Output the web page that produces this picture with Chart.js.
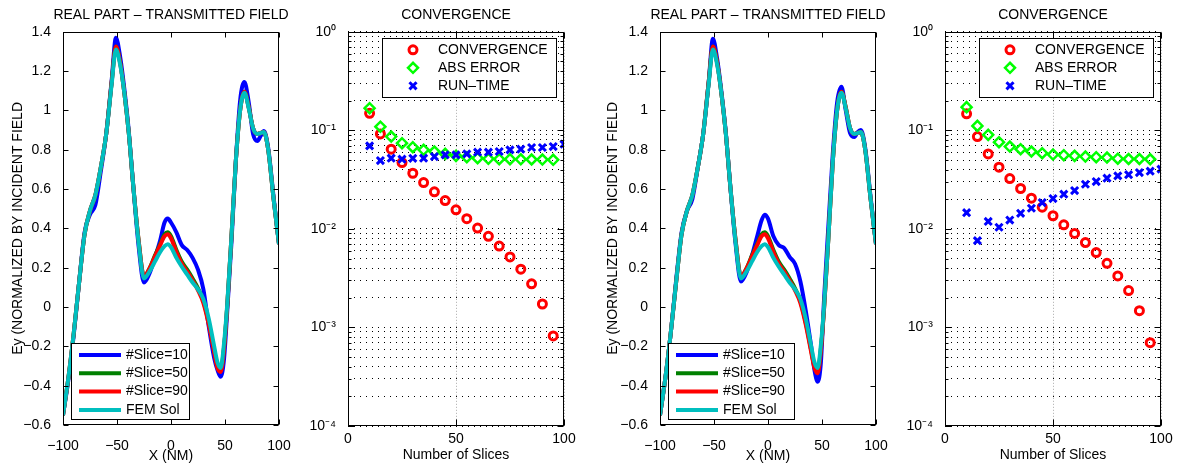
<!DOCTYPE html>
<html>
<head>
<meta charset="utf-8">
<script src="https://cdn.jsdelivr.net/npm/chart.js@4.4.0/dist/chart.umd.min.js"></script>
<style>
  html, body { margin: 0; padding: 0; background: #fff; overflow: hidden; }
  body { width: 1178px; height: 468px; position: relative; }
  canvas { position: absolute; top: 0; }
</style>
</head>
<body>
<canvas id="field1" width="342" height="468" style="left:0px"></canvas>
<canvas id="conv1" width="316" height="468" style="left:298px"></canvas>
<canvas id="field2" width="356" height="468" style="left:590px"></canvas>
<canvas id="conv2" width="316" height="468" style="left:895px"></canvas>
<script>
// ---- field plots (X in nm) ----
const xNm = [-100, -95, -90, -85, -80, -75, -70, -65, -60, -55, -51, -47, -43, -39, -35, -30, -25, -20, -15, -10, -6, -3, 0,
    5, 10, 15, 20, 25, 30, 35, 40, 43, 46, 49, 52, 56, 60, 64, 68, 72, 76, 80, 83, 86, 90, 95, 100];

const femSol = [-0.55, -0.36, -0.13, 0.13, 0.37, 0.49, 0.57, 0.71, 0.88, 1.13, 1.31, 1.23, 1.08, 0.88, 0.62, 0.33, 0.145, 0.18, 0.23, 0.28, 0.31, 0.32, 0.305,
    0.25, 0.205, 0.165, 0.125, 0.09, 0.04, -0.06, -0.2, -0.28, -0.31, -0.19, 0.01, 0.36, 0.74, 1.0, 1.09, 1.01, 0.91, 0.88, 0.885, 0.89, 0.8, 0.55, 0.32];

// left figure
const slice10A = [-0.55, -0.37, -0.14, 0.13, 0.38, 0.47, 0.52, 0.69, 0.88, 1.15, 1.37, 1.27, 1.1, 0.89, 0.62, 0.31, 0.125, 0.17, 0.25, 0.34, 0.43, 0.45, 0.43,
    0.38, 0.315, 0.29, 0.25, 0.19, 0.09, -0.1, -0.26, -0.32, -0.355, -0.27, -0.03, 0.33, 0.74, 1.05, 1.145, 1.04, 0.88, 0.845, 0.87, 0.895, 0.81, 0.56, 0.32];
const slice50A = [-0.55, -0.36, -0.13, 0.13, 0.37, 0.49, 0.57, 0.71, 0.88, 1.14, 1.325, 1.24, 1.08, 0.88, 0.62, 0.34, 0.155, 0.195, 0.26, 0.32, 0.37, 0.38, 0.36,
    0.29, 0.23, 0.19, 0.145, 0.095, 0.03, -0.08, -0.22, -0.3, -0.32, -0.21, 0.0, 0.36, 0.74, 1.0, 1.095, 1.015, 0.91, 0.88, 0.885, 0.89, 0.8, 0.55, 0.32];
const slice90A = [-0.55, -0.36, -0.13, 0.13, 0.37, 0.49, 0.57, 0.71, 0.88, 1.14, 1.325, 1.24, 1.08, 0.88, 0.62, 0.34, 0.155, 0.195, 0.255, 0.315, 0.36, 0.37, 0.35,
    0.28, 0.22, 0.18, 0.135, 0.085, 0.02, -0.09, -0.23, -0.31, -0.33, -0.22, 0.0, 0.36, 0.74, 1.0, 1.095, 1.015, 0.91, 0.88, 0.885, 0.89, 0.8, 0.55, 0.32];

// right figure
const slice10B = [-0.55, -0.36, -0.13, 0.14, 0.38, 0.49, 0.55, 0.71, 0.88, 1.14, 1.365, 1.26, 1.09, 0.885, 0.62, 0.32, 0.13, 0.175, 0.26, 0.36, 0.44, 0.47, 0.45,
    0.36, 0.315, 0.3, 0.255, 0.22, 0.13, -0.02, -0.2, -0.32, -0.38, -0.28, 0.05, 0.42, 0.78, 1.04, 1.12, 1.0, 0.885, 0.865, 0.89, 0.9, 0.81, 0.56, 0.32];
const slice50B = [-0.55, -0.36, -0.13, 0.13, 0.37, 0.49, 0.57, 0.71, 0.88, 1.14, 1.325, 1.24, 1.08, 0.88, 0.62, 0.34, 0.155, 0.195, 0.26, 0.32, 0.37, 0.38, 0.36,
    0.29, 0.23, 0.19, 0.145, 0.095, 0.03, -0.08, -0.22, -0.3, -0.325, -0.21, 0.0, 0.36, 0.74, 1.0, 1.095, 1.015, 0.91, 0.88, 0.885, 0.89, 0.8, 0.55, 0.32];
const slice90B = [-0.55, -0.36, -0.13, 0.13, 0.37, 0.49, 0.57, 0.71, 0.88, 1.14, 1.325, 1.24, 1.08, 0.88, 0.62, 0.34, 0.155, 0.195, 0.255, 0.315, 0.36, 0.37, 0.35,
    0.28, 0.22, 0.18, 0.135, 0.085, 0.02, -0.09, -0.23, -0.31, -0.337, -0.22, 0.0, 0.36, 0.74, 1.0, 1.095, 1.015, 0.91, 0.88, 0.885, 0.89, 0.8, 0.55, 0.32];

const fieldXTicks = [-100, -50, 0, 50, 100];
const fieldXLabels = ['\u2212100', '\u221250', '0', '50', '100'];
const fieldYTicks = [-0.6, -0.4, -0.2, 0, 0.2, 0.4, 0.6, 0.8, 1, 1.2, 1.4];
const fieldYLabels = ['\u22120.6', '\u22120.4', '\u22120.2', '0', '0.2', '0.4', '0.6', '0.8', '1', '1.2', '1.4'];

// ---- convergence plots ----
const slices = [10, 15, 20, 25, 30, 35, 40, 45, 50, 55, 60, 65, 70, 75, 80, 85, 90, 95];
const runSlices = [10, 15, 20, 25, 30, 35, 40, 45, 50, 55, 60, 65, 70, 75, 80, 85, 90, 95, 100];

const convA = [0.149, 0.092, 0.0644, 0.0471, 0.0367, 0.0295, 0.0238, 0.0194, 0.0156, 0.0127, 0.0102, 0.0084, 0.0067, 0.0052, 0.0039, 0.00277, 0.00173, 0.00082];
const absErrA = [0.168, 0.109, 0.0865, 0.074, 0.0675, 0.0634, 0.061, 0.0577, 0.0551, 0.0534, 0.0522, 0.0514, 0.051, 0.051, 0.0508, 0.0506, 0.0505, 0.0503];
const runTimeA = [0.0696, 0.0494, 0.0522, 0.051, 0.052, 0.0522, 0.0542, 0.0564, 0.0564, 0.0577, 0.06, 0.06, 0.061, 0.0634, 0.0644, 0.067, 0.067, 0.0685, 0.0724];

const convB = [0.147, 0.0865, 0.0577, 0.0423, 0.0324, 0.0257, 0.0205, 0.0166, 0.0136, 0.011, 0.009, 0.00726, 0.00575, 0.00448, 0.00333, 0.00237, 0.00148, 0.0007];
const absErrB = [0.172, 0.111, 0.09, 0.0759, 0.0685, 0.0644, 0.061, 0.0586, 0.0568, 0.056, 0.0551, 0.0542, 0.0534, 0.053, 0.0516, 0.0512, 0.0512, 0.0509];
const runTimeB = [0.0146, 0.0076, 0.0119, 0.0104, 0.0123, 0.0144, 0.0162, 0.0185, 0.0203, 0.0225, 0.0245, 0.0284, 0.0302, 0.0327, 0.0345, 0.0355, 0.0373, 0.0385, 0.0404];

const convXTicks = [0, 50, 100];
const convXLabels = ['0', '50', '100'];
const logDecades = [1e-4, 1e-3, 1e-2, 1e-1, 1];
const logDecadeLabels = ['10\u207B\u2074', '10\u207B\u00B3', '10\u207B\u00B2', '10\u207B\u00B9', '10\u2070'];
const logMinor = [2, 3, 4, 5, 6, 7, 8, 9];

const FONT = '"Liberation Sans", Arial, Helvetica, sans-serif';
Chart.defaults.font.family = FONT;
Chart.defaults.font.size = 14;
Chart.defaults.color = '#000';

// box + inward ticks like matlab
const frameTicks = {
    id: 'frameTicks',
    afterDraw(chart, args, opts) {
        const ctx = chart.ctx;
        const a = chart.chartArea;
        const xs = chart.scales.x, ys = chart.scales.y;
        const L = Math.round(a.left) + 0.5, R = Math.round(a.right) - 0.5;
        const T = Math.round(a.top) + 0.5, B = Math.round(a.bottom) - 0.5;
        ctx.save();
        ctx.strokeStyle = '#000';
        ctx.lineWidth = 1;
        ctx.beginPath();
        xs.ticks.forEach(t => {
            const px = Math.round(xs.getPixelForValue(t.value)) + 0.5;
            ctx.moveTo(px, B); ctx.lineTo(px, B - opts.len);
            ctx.moveTo(px, T); ctx.lineTo(px, T + opts.len);
        });
        ys.ticks.forEach(t => {
            const py = Math.round(ys.getPixelForValue(t.value)) + 0.5;
            const len = t.major === false ? opts.minorLen : opts.len;
            ctx.moveTo(L, py); ctx.lineTo(L + len, py);
            ctx.moveTo(R, py); ctx.lineTo(R - len, py);
        });
        ctx.stroke();
        ctx.strokeRect(L, T, R - L, B - T);
        ctx.restore();
    }
};

// legend box drawn inside the axes
const boxLegend = {
    id: 'boxLegend',
    afterDatasetsDraw(chart, args, o) {
        const ctx = chart.ctx;
        const a = chart.chartArea;
        const left = o.corner === 'bl' ? a.left + o.dx : a.right - o.dx - o.width;
        const top = o.corner === 'bl' ? a.bottom - o.dy - o.height : a.top + o.dy;
        ctx.save();
        ctx.fillStyle = '#fff';
        ctx.fillRect(left, top, o.width, o.height);
        ctx.strokeStyle = '#000';
        ctx.lineWidth = 1;
        ctx.strokeRect(Math.round(left) + 0.5, Math.round(top) + 0.5, o.width, o.height);
        chart.data.datasets.forEach((ds, i) => {
            const y = top + o.firstRow + i * o.rowGap;
            if (o.kind === 'line') {
                ctx.strokeStyle = ds.borderColor;
                ctx.lineWidth = ds.borderWidth;
                ctx.beginPath();
                ctx.moveTo(left + o.symX, y);
                ctx.lineTo(left + o.symX + o.symLen, y);
                ctx.stroke();
            } else {
                ctx.strokeStyle = ds.pointBorderColor;
                ctx.fillStyle = 'rgba(0,0,0,0)';
                ctx.lineWidth = ds.pointBorderWidth;
                Chart.helpers.drawPoint(ctx, {
                    pointStyle: ds.pointStyle, radius: ds.pointRadius,
                    borderWidth: ds.pointBorderWidth, rotation: 0
                }, left + o.symX, y);
            }
            ctx.fillStyle = '#000';
            ctx.font = '14px ' + FONT;
            ctx.textBaseline = 'middle';
            ctx.textAlign = 'left';
            ctx.fillText(ds.label, left + o.textX, y);
        });
        ctx.restore();
    }
};

// empty right axis, same width as the left one, so the title sits over the plot box
function spacerAxis(w) {
    return {
        position: 'right',
        afterFit: s => { s.width = w; },
        grid: { display: false },
        border: { display: false },
        ticks: { display: false }
    };
}

function fieldChart(id, s10, s50, s90, axisW, titlePad, legendW) {
    const pts = ys => xNm.map((x, i) => ({ x: x, y: ys[i] }));
    return new Chart(document.getElementById(id), {
        type: 'line',
        data: {
            datasets: [
                { label: '#Slice=10', data: pts(s10), borderColor: '#0000ff', borderWidth: 4, order: 3 },
                { label: '#Slice=50', data: pts(s50), borderColor: '#008000', borderWidth: 4, order: 2 },
                { label: '#Slice=90', data: pts(s90), borderColor: '#ff0000', borderWidth: 4, order: 1 },
                { label: 'FEM Sol', data: pts(femSol), borderColor: '#00bfbf', borderWidth: 4, order: 0 }
            ]
        },
        options: {
            responsive: false,
            animation: false,
            elements: {
                point: { radius: 0 },
                line: { cubicInterpolationMode: 'monotone' }
            },
            plugins: {
                legend: { display: false },
                tooltip: { enabled: false },
                title: {
                    display: true, text: 'REAL PART \u2013 TRANSMITTED FIELD',
                    font: { size: 14, weight: 'normal' }, padding: { top: 7, bottom: 8 }
                },
                frameTicks: { len: 5, minorLen: 3 },
                boxLegend: {
                    kind: 'line', corner: 'bl', dx: 8, dy: 6, width: legendW, height: 76,
                    firstRow: 12, rowGap: 18.3, symX: 8, symLen: 42, textX: 55
                }
            },
            scales: {
                x: {
                    type: 'linear', min: -100, max: 100,
                    afterBuildTicks: s => { s.ticks = fieldXTicks.map(v => ({ value: v })); },
                    afterFit: s => { s.height = 43; },
                    grid: { display: false },
                    border: { display: false },
                    ticks: { autoSkip: false, maxRotation: 0, padding: 5, callback: (v, i) => fieldXLabels[i] },
                    title: { display: true, text: 'X (NM)', padding: { top: 0, bottom: 3 } }
                },
                y: {
                    type: 'linear', min: -0.6, max: 1.4,
                    afterBuildTicks: s => { s.ticks = fieldYTicks.map(v => ({ value: v })); },
                    afterFit: s => { s.width = axisW; },
                    grid: { display: false },
                    border: { display: false },
                    ticks: { autoSkip: false, padding: 4, callback: (v, i) => fieldYLabels[i] },
                    title: { display: true, text: 'Ey (NORMALIZED BY INCIDENT FIELD', padding: { top: titlePad, bottom: 0 } }
                },
                pad: spacerAxis(axisW)
            }
        },
        plugins: [frameTicks, boxLegend]
    });
}

function logTicks() {
    const ticks = [];
    logDecades.forEach((d, k) => {
        ticks.push({ value: d, major: true, txt: logDecadeLabels[k] });
        if (k < logDecades.length - 1) {
            logMinor.forEach(m => ticks.push({ value: m * d, major: false, txt: '' }));
        }
    });
    return ticks;
}

function convChart(id, conv, absErr, runTime, axisW) {
    return new Chart(document.getElementById(id), {
        type: 'scatter',
        data: {
            datasets: [
                {
                    label: 'CONVERGENCE', data: slices.map((x, i) => ({ x: x, y: conv[i] })),
                    pointStyle: 'circle', pointRadius: 4, pointBorderWidth: 3,
                    pointBorderColor: '#ff0000', pointBackgroundColor: 'rgba(0,0,0,0)', order: 2
                },
                {
                    label: 'ABS ERROR', data: slices.map((x, i) => ({ x: x, y: absErr[i] })),
                    pointStyle: 'rectRot', pointRadius: 5, pointBorderWidth: 2.5,
                    pointBorderColor: '#00ff00', pointBackgroundColor: 'rgba(0,0,0,0)', order: 1
                },
                {
                    label: 'RUN\u2013TIME', data: runSlices.map((x, i) => ({ x: x, y: runTime[i] })),
                    pointStyle: 'crossRot', pointRadius: 5, pointBorderWidth: 3,
                    pointBorderColor: '#0000ff', pointBackgroundColor: '#0000ff', order: 0
                }
            ]
        },
        options: {
            responsive: false,
            animation: false,
            plugins: {
                legend: { display: false },
                tooltip: { enabled: false },
                title: {
                    display: true, text: 'CONVERGENCE',
                    font: { size: 14, weight: 'normal' }, padding: { top: 7, bottom: 8 }
                },
                frameTicks: { len: 6, minorLen: 3 },
                boxLegend: {
                    kind: 'marker', corner: 'tr', dx: 8, dy: 6, width: 174, height: 59,
                    firstRow: 12, rowGap: 18, symX: 31, textX: 56
                }
            },
            scales: {
                x: {
                    type: 'linear', min: 0, max: 100,
                    afterBuildTicks: s => { s.ticks = convXTicks.map(v => ({ value: v })); },
                    afterFit: s => { s.height = 42; },
                    grid: { color: '#aaa', lineWidth: 1, drawTicks: false },
                    border: { display: false, dash: [1, 2] },
                    ticks: { autoSkip: false, maxRotation: 0, padding: 5, callback: (v, i) => convXLabels[i] },
                    title: { display: true, text: 'Number of Slices', padding: { top: 0, bottom: 4 } }
                },
                y: {
                    type: 'logarithmic', min: 1e-4, max: 1,
                    afterBuildTicks: s => { s.ticks = logTicks(); },
                    afterFit: s => { s.width = axisW; },
                    grid: { color: '#000', lineWidth: 1, drawTicks: false },
                    border: { display: false, dash: [1, 5] },
                    ticks: { autoSkip: false, padding: 12, callback: (v, i, t) => t[i].txt }
                },
                pad: spacerAxis(axisW)
            }
        },
        plugins: [frameTicks, boxLegend]
    });
}

fieldChart('field1', slice10A, slice50A, slice90A, 63, 10, 118);
convChart('conv1', convA, absErrA, runTimeA, 50);
fieldChart('field2', slice10B, slice50B, slice90B, 70, 15, 126);
convChart('conv2', convB, absErrB, runTimeB, 50);
</script>
</body>
</html>
